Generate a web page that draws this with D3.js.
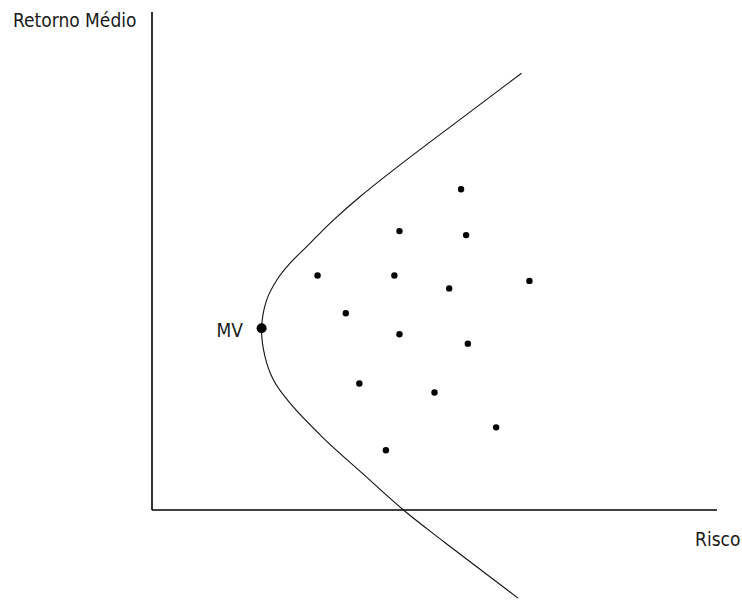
<!DOCTYPE html>
<html>
<head>
<meta charset="utf-8">
<script src="https://cdn.jsdelivr.net/npm/d3@7"></script>
<style>
  html, body { margin: 0; padding: 0; background: #fff; }
  svg text { font-family: "Liberation Sans Narrow", "DejaVu Sans Condensed", "Liberation Sans", sans-serif; fill: #1a1a1a; }
</style>
</head>
<body>
<script>
// Portfolio points (risk, return)
const assetRisk   = [5.47, 4.38, 5.56, 2.93, 4.29, 5.26, 6.68, 3.43, 4.38, 5.59, 3.67, 5.00, 6.09, 4.14];
const assetReturn = [6.44, 5.60, 5.52, 4.71, 4.71, 4.45, 4.60, 3.95, 3.53, 3.34, 2.54, 2.36, 1.66, 1.20];

// Minimum-variance frontier (top end -> MV -> bottom end)
const frontierRisk   = [6.54, 5.45, 4.39, 3.68, 3.21, 2.80, 2.44, 2.21, 2.03, 1.94, 2.00, 2.15, 2.41, 3.01, 3.72, 4.45, 5.10, 5.77, 6.48];
const frontierReturn = [8.77, 7.84, 6.93, 6.29, 5.82, 5.36, 4.95, 4.62, 4.22, 3.65, 3.08, 2.61, 2.19, 1.47, 0.74, 0.00, -0.58, -1.16, -1.77];

// Minimum variance portfolio
const mvRisk = [1.94];
const mvReturn = [3.65];
const mvLabel = ["MV"];

const axisLabels = ["Retorno Médio", "Risco"];

const W = 742, H = 600;
const svg = d3.select("body").append("svg").attr("width", W).attr("height", H);

const x = d3.scaleLinear().domain([0, 10]).range([152, 717]);
const y = d3.scaleLinear().domain([0, 10]).range([510, 12]);

// Axes (plain lines, no ticks)
svg.append("line")
  .attr("x1", x(0)).attr("x2", x(0)).attr("y1", y(10)).attr("y2", y(0))
  .attr("stroke", "#000").attr("stroke-width", 1.6);
svg.append("line")
  .attr("x1", x(0)).attr("x2", x(10)).attr("y1", y(0)).attr("y2", y(0))
  .attr("stroke", "#000").attr("stroke-width", 1.6);

// Frontier curve
const frontier = frontierRisk.map((r, i) => [r, frontierReturn[i]]);
const line = d3.line()
  .x(d => x(d[0])).y(d => y(d[1]))
  .curve(d3.curveCatmullRom.alpha(0.5));
svg.append("path")
  .datum(frontier)
  .attr("d", line)
  .attr("fill", "none")
  .attr("stroke", "#111")
  .attr("stroke-width", 1.1);

// Assets
svg.selectAll("circle.asset")
  .data(assetRisk.map((r, i) => [r, assetReturn[i]]))
  .join("circle")
  .attr("class", "asset")
  .attr("cx", d => x(d[0])).attr("cy", d => y(d[1]))
  .attr("r", 3.2)
  .attr("fill", "#000");

// MV point
svg.append("circle")
  .attr("cx", x(mvRisk[0])).attr("cy", y(mvReturn[0]))
  .attr("r", 5)
  .attr("fill", "#000");
svg.append("text")
  .attr("x", x(mvRisk[0]) - 45).attr("y", y(mvReturn[0]) + 9)
  .attr("font-size", 19)
  .text(mvLabel[0]);

// Axis labels
svg.append("text")
  .attr("x", 13).attr("y", 27)
  .attr("font-size", 19)
  .text(axisLabels[0]);
svg.append("text")
  .attr("x", 695).attr("y", 546)
  .attr("font-size", 19)
  .text(axisLabels[1]);
</script>
</body>
</html>
